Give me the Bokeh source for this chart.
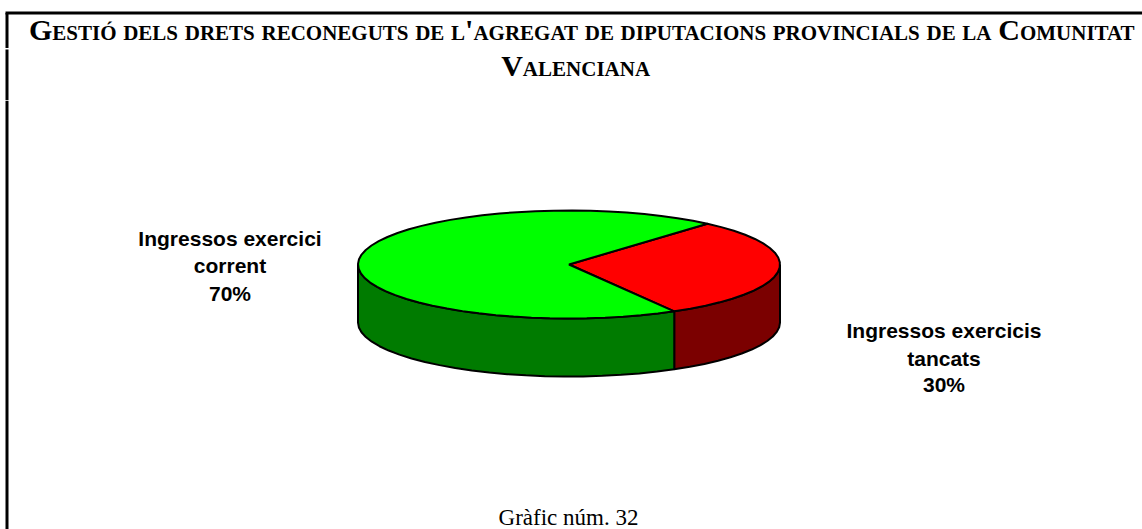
import math
from bokeh.plotting import figure
from bokeh.layouts import column
from bokeh.models import Range1d
from bokeh.core.properties import value
from bokeh.embed import file_html
from bokeh.resources import INLINE

categories = ["Ingressos exercicis tancats", "Ingressos exercici corrent"]
values = [30.3, 69.7]
top_colors = ["#ff0000", "#00ff00"]
side_colors = ["#7b0000", "#007b00"]
title_lines = ["Gestió dels drets reconeguts de l'agregat de diputacions provincials de la Comunitat", "Valenciana"]
label_lines = [["Ingressos exercicis", "tancats", "30%"], ["Ingressos exercici", "corrent", "70%"]]
caption = "Gràfic núm. 32"

W, H, TH = 1142, 529, 100
CX, CY, RX, RY, DEPTH = 568.5, 264, 211, 54, 58
START_DEG = 49
STEP_DEG = 5


def make(y0, y1, **kw):
    f = figure(width=W, height=y1 - y0, x_range=Range1d(0, W), y_range=Range1d(y1, y0),
               output_backend="svg", toolbar_location=None, min_border=0,
               outline_line_color=None, **kw)
    f.axis.visible = False
    f.grid.visible = False
    return f


def arc(a0, a1, dy=0):
    n = max(2, int(abs(a1 - a0) / STEP_DEG) + 1)
    pts = [a0 + (a1 - a0) * i / (n - 1) for i in range(n)]
    return ([CX + RX * math.cos(math.radians(a)) for a in pts],
            [CY + dy - RY * math.sin(math.radians(a)) for a in pts])


head = make(0, TH)
head.styles = {"font-variant": "small-caps", "word-spacing": "-0.8px"}
head.segment([5, 6.5, 6.5], [12.5, 12.5, 49], [W, 6.5, 6.5], [12.5, 47.5, TH], line_color="black", line_width=3)
head.text([563.6, 571], [29, 65], text=title_lines, text_font=value("Liberation Serif"),
          text_font_style="bold", text_font_size="30px", text_align="center",
          text_baseline="middle", text_color="black")

p = make(TH, H)
p.segment([6.5], [TH], [6.5], [H], line_color="black", line_width=3)

total = sum(values)
slices = []
a = START_DEG
for v in values:
    slices.append((a - 360 * v / total, a))
    a -= 360 * v / total

for (lo, hi), col in zip(slices, side_colors):
    lo_n, hi_n = lo % 360, (hi % 360) or 360
    spans = [(lo_n, hi_n)] if lo_n < hi_n else [(lo_n, 360), (0, hi_n)]
    for s0, s1 in spans:
        s0, s1 = max(s0, 180), min(s1, 360)
        if s0 >= s1:
            continue
        x1, y1 = arc(s0, s1)
        x2, y2 = arc(s1, s0, DEPTH)
        p.patch(x1 + x2, y1 + y2, fill_color=col, line_color="black", line_width=2)

for (lo, hi), col in zip(slices, top_colors):
    xs, ys = arc(lo, hi)
    p.patch([CX] + xs, [CY] + ys, fill_color=col, line_color="black", line_width=2)

sans = dict(text_font=value("Liberation Sans"), text_font_style="bold", text_font_size="21px",
            text_align="center", text_baseline="middle", text_color="black")
p.text([943.5] * 3, [330, 358, 384], text=label_lines[0], **sans)
p.text([229.5] * 3, [238, 265, 293], text=label_lines[1], **sans)
p.text([568], [517], text=[caption], text_font=value("Liberation Serif"), text_font_size="23px",
       text_align="center", text_baseline="middle", text_color="black")

page = column(head, p, spacing=0)
open("out.html", "w").write(file_html(page, INLINE))
